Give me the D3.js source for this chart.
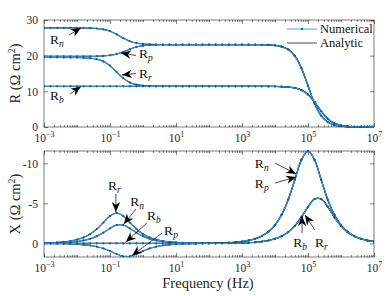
<!DOCTYPE html>
<html>
<head>
<meta charset="utf-8">
<script src="https://cdn.jsdelivr.net/npm/d3@7"></script>
<style>
  body { margin: 0; background: #fff; }
</style>
</head>
<body>
<div id="chart"></div>
<script>
// frequency grid (log10 Hz) and values
const logF = [-3.0,-2.8,-2.6,-2.4,-2.2,-2.0,-1.8,-1.6,-1.4,-1.2,-1.0,-0.8,-0.6,-0.4,-0.2,0.0,0.2,0.4,0.6,0.8,
  1.0,1.2,1.4,1.6,1.8,2.0,2.2,2.4,2.6,2.8,3.0,3.2,3.4,3.6,3.8,4.0,4.2,4.4,4.6,4.8,
  5.0,5.2,5.4,5.6,5.8,6.0,6.2,6.4,6.6,6.8,7.0];

const rnR = [27.8,27.8,27.8,27.8,27.8,27.79,27.77,27.73,27.62,27.37,26.86,25.98,24.92,24.04,23.53,23.28,23.17,23.13,23.11,23.1,
  23.1,23.1,23.1,23.1,23.1,23.1,23.1,23.1,23.1,23.1,23.1,23.09,23.09,23.06,23.01,22.87,22.53,21.73,19.94,16.52,
  11.55,6.58,3.16,1.37,0.57,0.23,0.09,0.04,0.01,0,0];
const rpR = [19.8,19.8,19.8,19.8,19.8,19.8,19.81,19.82,19.85,19.93,20.10,20.46,21.08,21.82,22.44,22.80,22.97,23.05,23.08,23.09,
  23.1,23.1,23.1,23.1,23.1,23.1,23.1,23.1,23.1,23.1,23.1,23.09,23.09,23.06,23.01,22.87,22.53,21.73,19.94,16.52,
  11.55,6.58,3.16,1.37,0.57,0.23,0.09,0.04,0.01,0,0];
const rrR = [19.5,19.5,19.5,19.49,19.49,19.47,19.42,19.30,19.02,18.39,17.19,15.45,13.71,12.51,11.88,11.60,11.48,11.43,11.41,11.4,
  11.4,11.4,11.4,11.4,11.4,11.4,11.4,11.4,11.4,11.4,11.4,11.4,11.4,11.4,11.39,11.37,11.33,11.22,10.96,10.36,
  9.11,6.99,4.41,2.29,1.04,0.44,0.18,0.07,0.03,0.01,0];
const rbR = [11.4,11.4,11.4,11.4,11.4,11.4,11.4,11.4,11.4,11.4,11.4,11.4,11.4,11.4,11.4,11.4,11.4,11.4,11.4,11.4,
  11.4,11.4,11.4,11.4,11.4,11.4,11.4,11.4,11.4,11.4,11.4,11.4,11.4,11.4,11.39,11.37,11.33,11.22,10.96,10.36,
  9.11,6.99,4.41,2.29,1.04,0.44,0.18,0.07,0.03,0.01,0];

const rnX = [-0.02,-0.04,-0.06,-0.09,-0.15,-0.24,-0.37,-0.58,-0.90,-1.35,-1.88,-2.29,-2.29,-1.88,-1.35,-0.90,-0.58,-0.37,-0.24,-0.15,
  -0.09,-0.06,-0.04,-0.02,-0.03,-0.03,-0.04,-0.06,-0.09,-0.15,-0.23,-0.37,-0.58,-0.92,-1.45,-2.29,-3.57,-5.46,-7.94,-10.43,
  -11.55,-10.43,-7.94,-5.46,-3.57,-2.29,-1.45,-0.92,-0.58,-0.37,-0.23];
const rpX = [0.01,0.02,0.03,0.04,0.07,0.10,0.17,0.26,0.41,0.63,0.95,1.32,1.61,1.61,1.32,0.95,0.63,0.41,0.26,0.17,
  0.10,0.07,0.04,0.03,0.0,-0.01,-0.03,-0.05,-0.09,-0.15,-0.23,-0.37,-0.58,-0.92,-1.45,-2.29,-3.57,-5.46,-7.94,-10.43,
  -11.55,-10.43,-7.94,-5.46,-3.57,-2.29,-1.45,-0.92,-0.58,-0.37,-0.23];
const rrX = [-0.05,-0.08,-0.12,-0.19,-0.30,-0.48,-0.75,-1.17,-1.80,-2.61,-3.43,-3.80,-3.43,-2.61,-1.80,-1.17,-0.75,-0.48,-0.30,-0.19,
  -0.12,-0.08,-0.05,-0.03,-0.02,-0.02,-0.01,-0.01,-0.02,-0.04,-0.06,-0.09,-0.14,-0.23,-0.36,-0.57,-0.90,-1.41,-2.19,-3.28,
  -4.57,-5.55,-5.55,-4.57,-3.28,-2.19,-1.41,-0.90,-0.57,-0.36,-0.23];
const rbX = [0,0,0,0,0,0,0,0,0,0,0,0,0,0,0,0,0,0,0,0,
  0,0,0,0,0,-0.01,-0.01,-0.01,-0.02,-0.04,-0.06,-0.09,-0.14,-0.23,-0.36,-0.57,-0.90,-1.41,-2.19,-3.28,
  -4.57,-5.55,-5.55,-4.57,-3.28,-2.19,-1.41,-0.90,-0.57,-0.36,-0.23];

const xMajor = [1e-3, 1e-1, 1e1, 1e3, 1e5, 1e7];
const rTicks = [0, 10, 20, 30];
const xTicks = [-10, -5, 0];
const legendLabels = ["Numerical", "Analytic"];

// annotations: label subscript, tip / tail / text anchor in data units (log10 f, value)
const annotR = [
  { sub: "n", tip: [-1.88, 27.75], tail: [-2.24, 25.8], text: [-2.82, 23.3] },
  { sub: "p", tip: [-0.67, 20.75], tail: [-0.21, 20.05], text: [-0.12, 19.35] },
  { sub: "r", tip: [-0.64, 14.6], tail: [-0.21, 15.0], text: [-0.12, 13.75] },
  { sub: "b", tip: [-1.88, 11.35], tail: [-2.21, 9.25], text: [-2.82, 7.55] },
];
const annotX = [
  { sub: "r", tip: [-0.82, -3.93], tail: [-0.82, -6.18], text: [-1.06, -6.68] },
  { sub: "n", tip: [-0.58, -2.43], tail: [-0.21, -4.3], text: [-0.39, -4.68] },
  { sub: "b", tip: [-0.52, -0.18], tail: [0.12, -2.55], text: [0.12, -2.93] },
  { sub: "p", tip: [-0.33, 1.51], tail: [0.58, -1.3], text: [0.64, -1.05] },
  { sub: "n", tip: [4.64, -8.68], tail: [4.0, -10.05], text: [3.39, -9.43] },
  { sub: "p", tip: [4.64, -8.3], tail: [4.0, -7.55], text: [3.39, -6.93] },
  { sub: "b", tip: [4.82, -3.43], tail: [4.82, -1.3], text: [4.55, 0.45] },
  { sub: "r", tip: [4.91, -3.55], tail: [5.21, -1.68], text: [5.21, 0.45] },
];

const width = 389;
const height = 296;
const left = 44, right = 374;
const numColor = "#3c9be2";
const dotColor = "#0b5ea8";
const serif = '"Liberation Serif", "Times New Roman", Tinos, "DejaVu Serif", serif';

const svg = d3.select("#chart").append("svg")
  .attr("width", width)
  .attr("height", height)
  .attr("font-family", serif)
  .style("font-family", serif);

const defs = svg.append("defs");
defs.append("marker")
  .attr("id", "head")
  .attr("viewBox", "-11 -5 12 10")
  .attr("refX", 0).attr("refY", 0)
  .attr("markerUnits", "userSpaceOnUse")
  .attr("markerWidth", 12).attr("markerHeight", 10)
  .attr("orient", "auto")
  .append("path")
  .attr("d", "M0,0 L-10,-4.2 L-7,0 L-10,4.2 Z")
  .attr("fill", "#000");

const x = d3.scaleLog().domain([1e-3, 1e7]).range([left, right]);
const yR = d3.scaleLinear().domain([0, 30]).range([127, 20]);
const yX = d3.scaleLinear().domain([-11.55, 1.7]).range([151, 257]);

const minor = [];
for (let e = -3; e < 7; e++) {
  for (let m = 1; m <= 9; m++) {
    const v = m * Math.pow(10, e);
    if (!xMajor.some((t) => Math.abs(t / v - 1) < 1e-9)) minor.push(v);
  }
}

const supFmt = (v) => {
  const e = Math.round(Math.log10(v));
  return e < 0 ? "\u2212" + Math.abs(e) : String(e);
};

const bounds = (y) => [d3.max(y.range()), d3.min(y.range())];

function frame(y, ticks, fmt) {
  const [y0, y1] = bounds(y);
  const g = svg.append("g");
  const style = (a) => {
    a.attr("font-family", null);
    a.select(".domain").remove();
    a.selectAll("line").attr("stroke", "#262626").attr("stroke-width", 0.6);
  };
  // bottom with labels
  const bx = g.append("g").attr("transform", `translate(0,${y0})`)
    .call(d3.axisBottom(x).tickValues(xMajor).tickSize(-4).tickFormat(""));
  style(bx);
  bx.selectAll(".tick text").remove();
  bx.selectAll(".tick").append("text")
    .attr("y", 15).attr("text-anchor", "middle").attr("font-size", 11.5)
    .attr("fill", "#262626")
    .each(function (d) {
      const t = d3.select(this);
      t.append("tspan").text("10");
      t.append("tspan").attr("dy", -5).attr("font-size", 8).text(supFmt(d));
    });
  style(g.append("g").attr("transform", `translate(0,${y0})`)
    .call(d3.axisBottom(x).tickValues(minor).tickSize(-2).tickFormat("")));
  style(g.append("g").attr("transform", `translate(0,${y1})`)
    .call(d3.axisTop(x).tickValues(xMajor).tickSize(-4).tickFormat("")));
  style(g.append("g").attr("transform", `translate(0,${y1})`)
    .call(d3.axisTop(x).tickValues(minor).tickSize(-2).tickFormat("")));
  const ly = g.append("g").attr("transform", `translate(${left},0)`)
    .call(d3.axisLeft(y).tickValues(ticks).tickSize(-4).tickPadding(6).tickFormat(fmt));
  style(ly);
  ly.selectAll("text").attr("font-size", 11.5).attr("fill", "#262626");
  style(g.append("g").attr("transform", `translate(${right},0)`)
    .call(d3.axisRight(y).tickValues(ticks).tickSize(-4).tickFormat("")));
  g.append("rect")
    .attr("x", left).attr("y", y1)
    .attr("width", right - left).attr("height", y0 - y1)
    .attr("fill", "none").attr("stroke", "#262626").attr("stroke-width", 0.6);
}

frame(yR, rTicks, d3.format("d"));
frame(yX, xTicks, (d) => String(d));

[["clipR", yR], ["clipX", yX]].forEach(([id, y]) => {
  const [y0, y1] = bounds(y);
  defs.append("clipPath").attr("id", id).append("rect")
    .attr("x", left).attr("y", y1 - 1).attr("width", right - left).attr("height", y0 - y1 + 2);
});

function series(y, values, clipId) {
  const pts = logF.map((lf, i) => [Math.pow(10, lf), values[i]]);
  const line = d3.line()
    .x((d) => x(d[0])).y((d) => y(d[1]))
    .curve(d3.curveCatmullRom.alpha(0.5));
  const g = svg.append("g").attr("clip-path", `url(#${clipId})`);
  // analytic underneath, numerical on top
  g.append("path").attr("d", line(pts))
    .attr("fill", "none").attr("stroke", "#000").attr("stroke-width", 1.1);
  g.append("path").attr("d", line(pts))
    .attr("fill", "none").attr("stroke", numColor).attr("stroke-width", 1.3)
    .attr("stroke-opacity", 0.9);
  g.selectAll("circle").data(pts).join("circle")
    .attr("cx", (d) => x(d[0])).attr("cy", (d) => y(d[1]))
    .attr("r", 1.1).attr("fill", dotColor);
}

[rnR, rpR, rrR, rbR].forEach((s) => series(yR, s, "clipR"));
[rnX, rpX, rrX, rbX].forEach((s) => series(yX, s, "clipX"));

function annotate(list, y) {
  list.forEach((a) => {
    svg.append("line")
      .attr("x1", x(Math.pow(10, a.tail[0]))).attr("y1", y(a.tail[1]))
      .attr("x2", x(Math.pow(10, a.tip[0]))).attr("y2", y(a.tip[1]))
      .attr("stroke", "#000").attr("stroke-width", 0.7)
      .attr("marker-end", "url(#head)");
    const t = svg.append("text")
      .attr("x", x(Math.pow(10, a.text[0]))).attr("y", y(a.text[1]))
      .attr("font-size", 13.5).attr("fill", "#111");
    t.append("tspan").text("R");
    t.append("tspan").attr("dy", 3).attr("font-size", 9.5)
      .attr("font-style", "italic").text(a.sub);
  });
}
annotate(annotR, yR);
annotate(annotX, yX);

// legend
const lg = svg.append("g");
legendLabels.forEach((name, i) => {
  const ly = 29 + i * 14;
  if (i === 0) {
    lg.append("line").attr("x1", 287).attr("x2", 317).attr("y1", ly).attr("y2", ly)
      .attr("stroke", "#8ac6ee").attr("stroke-width", 1.6);
    lg.append("circle").attr("cx", 302).attr("cy", ly).attr("r", 1.2).attr("fill", dotColor);
  } else {
    lg.append("line").attr("x1", 287).attr("x2", 317).attr("y1", ly).attr("y2", ly)
      .attr("stroke", "#000").attr("stroke-width", 0.7);
  }
  lg.append("text").attr("x", 320).attr("y", ly + 4)
    .attr("font-size", 12.5).attr("fill", "#111").text(name);
});

// axis titles
const yTitle = (cy, letter) => {
  const t = svg.append("text")
    .attr("transform", `translate(20,${cy}) rotate(-90)`)
    .attr("text-anchor", "middle").attr("font-size", 14.5).attr("fill", "#262626");
  t.append("tspan").text(letter + " (\u03A9 cm");
  t.append("tspan").attr("dy", -5).attr("font-size", 10).text("2");
  t.append("tspan").attr("dy", 5).text(")");
};
yTitle(73.5, "R");
yTitle(204, "X");

svg.append("text")
  .attr("x", 208).attr("y", 288)
  .attr("text-anchor", "middle").attr("font-size", 14.5).attr("fill", "#262626")
  .text("Frequency (Hz)");
</script>
</body>
</html>
